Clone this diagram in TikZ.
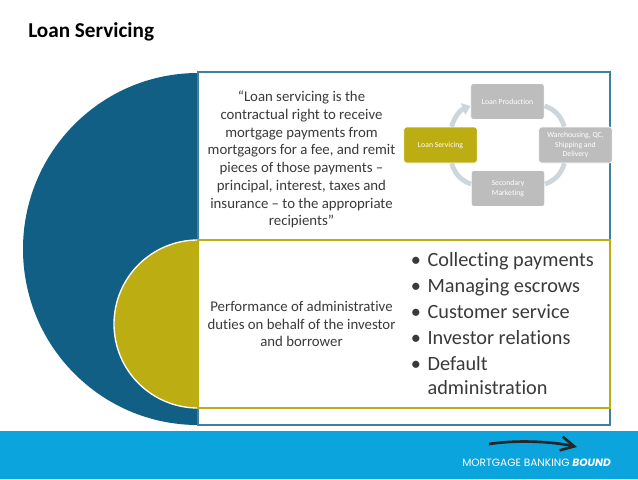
\documentclass[tikz,border=0pt]{standalone}
\usepackage{fontspec}
\setmainfont{Carlito}[Ligatures=NoCommon]
\newfontfamily\logofont{Poppins}
\usetikzlibrary{positioning,arrows.meta,calc}
\definecolor{tealblue}{HTML}{125F85}
\definecolor{boxblue}{HTML}{3F7F9F}
\definecolor{olivegold}{HTML}{BCAE12}
\definecolor{bandblue}{HTML}{0BA4DC}
\definecolor{stepgray}{HTML}{BDBDBD}
\definecolor{ringgray}{HTML}{CDD6DB}
\definecolor{bodytext}{HTML}{3A3A3A}
\begin{document}
\begin{tikzpicture}[x=0.75pt,y=-0.75pt,
    body/.style={align=center, text=bodytext, font=\fontsize{11.1}{13.3}\selectfont, inner sep=0pt},
    bullets/.style={anchor=west, text=bodytext, font=\fontsize{15.2}{19.5}\selectfont, inner sep=0pt},
    stepbox/.style={rectangle, rounded corners=2pt, fill=stepgray, draw=white, line width=0.5pt, text=white, align=center, minimum width=55pt, minimum height=27pt, inner sep=0pt, font=\fontsize{5.8}{7}\selectfont},
    ring/.style={-{Triangle[length=6pt,width=9pt]}, line width=3.6pt, draw=ringgray}]
    \useasboundingbox (0,0) rectangle (638,479);
    \fill [white] (0,0) rectangle (638,479);
    \fill [bandblue] (0,431) rectangle (638,479);

    \node (title) [anchor=west, inner sep=0pt, font=\bfseries\fontsize{15.9}{18}\selectfont] at (28,32) {Loan Servicing};

    % half circles behind the boxes
    \fill [tealblue] (198,73) arc (-90:-270:175 and 176) -- cycle;
    \fill [olivegold] (198,240) arc (-90:-270:84) -- cycle;
    \draw [white, line width=1pt] (198,240) arc (-90:-270:84);

    % boxes
    \draw [boxblue, line width=1.3pt] (198,72) rectangle (610,425);
    \draw [olivegold, line width=1.5pt] (198,240) rectangle (610,408);

    \node (quote) [body] at (301.5,159.7) {“Loan servicing is the\\contractual right to receive\\mortgage payments from\\mortgagors for a fee, and remit\\pieces of those payments –\\principal, interest, taxes and\\insurance – to the appropriate\\recipients”};
    \node (duties) [body] at (301.5,324) {Performance of administrative\\duties on behalf of the investor\\and borrower};

    % cycle
    \node (prod) [stepbox] at (507.5,101.5) {Loan Production};
    \node (ware) [stepbox] at (575.5,145) {Warehousing, QC,\\Shipping and\\Delivery};
    \node (sec) [stepbox] at (508,188.5) {Secondary\\Marketing};
    \node (serv) [stepbox, fill=olivegold] at (440.5,145) {Loan Servicing};

    \draw [ring] (serv) to [bend left=26] (prod);
    \draw [ring, -] (prod) to [bend left=26] (ware);
    \draw [ring, -] (ware) to [bend left=26] (sec);
    \draw [ring, -] (sec) to [bend left=26] (serv);

    \node (list) [bullets, align=left] at (410.5,323.5) {•\,\,Collecting payments\\•\,\,Managing escrows\\•\,\,Customer service\\•\,\,Investor relations\\•\,\,Default\\[-2.2pt]\phantom{•\,\,}administration};

    % logo
    \coordinate (tail) at (489,444);
    \coordinate (tip) at (577,447);
    \draw [-{Straight Barb[length=10pt,width=10.5pt]}, line width=2pt, black!85] (tail) .. controls (515,440) and (550,441) .. (tip);
    \node (logo) [anchor=west, inner sep=0pt, text=white, font=\logofont\fontsize{7.95}{10}\selectfont] at (462,462.5) {MORTGAGE BANKING \textbf{\textit{BOUND}}};
\end{tikzpicture}
\end{document}
